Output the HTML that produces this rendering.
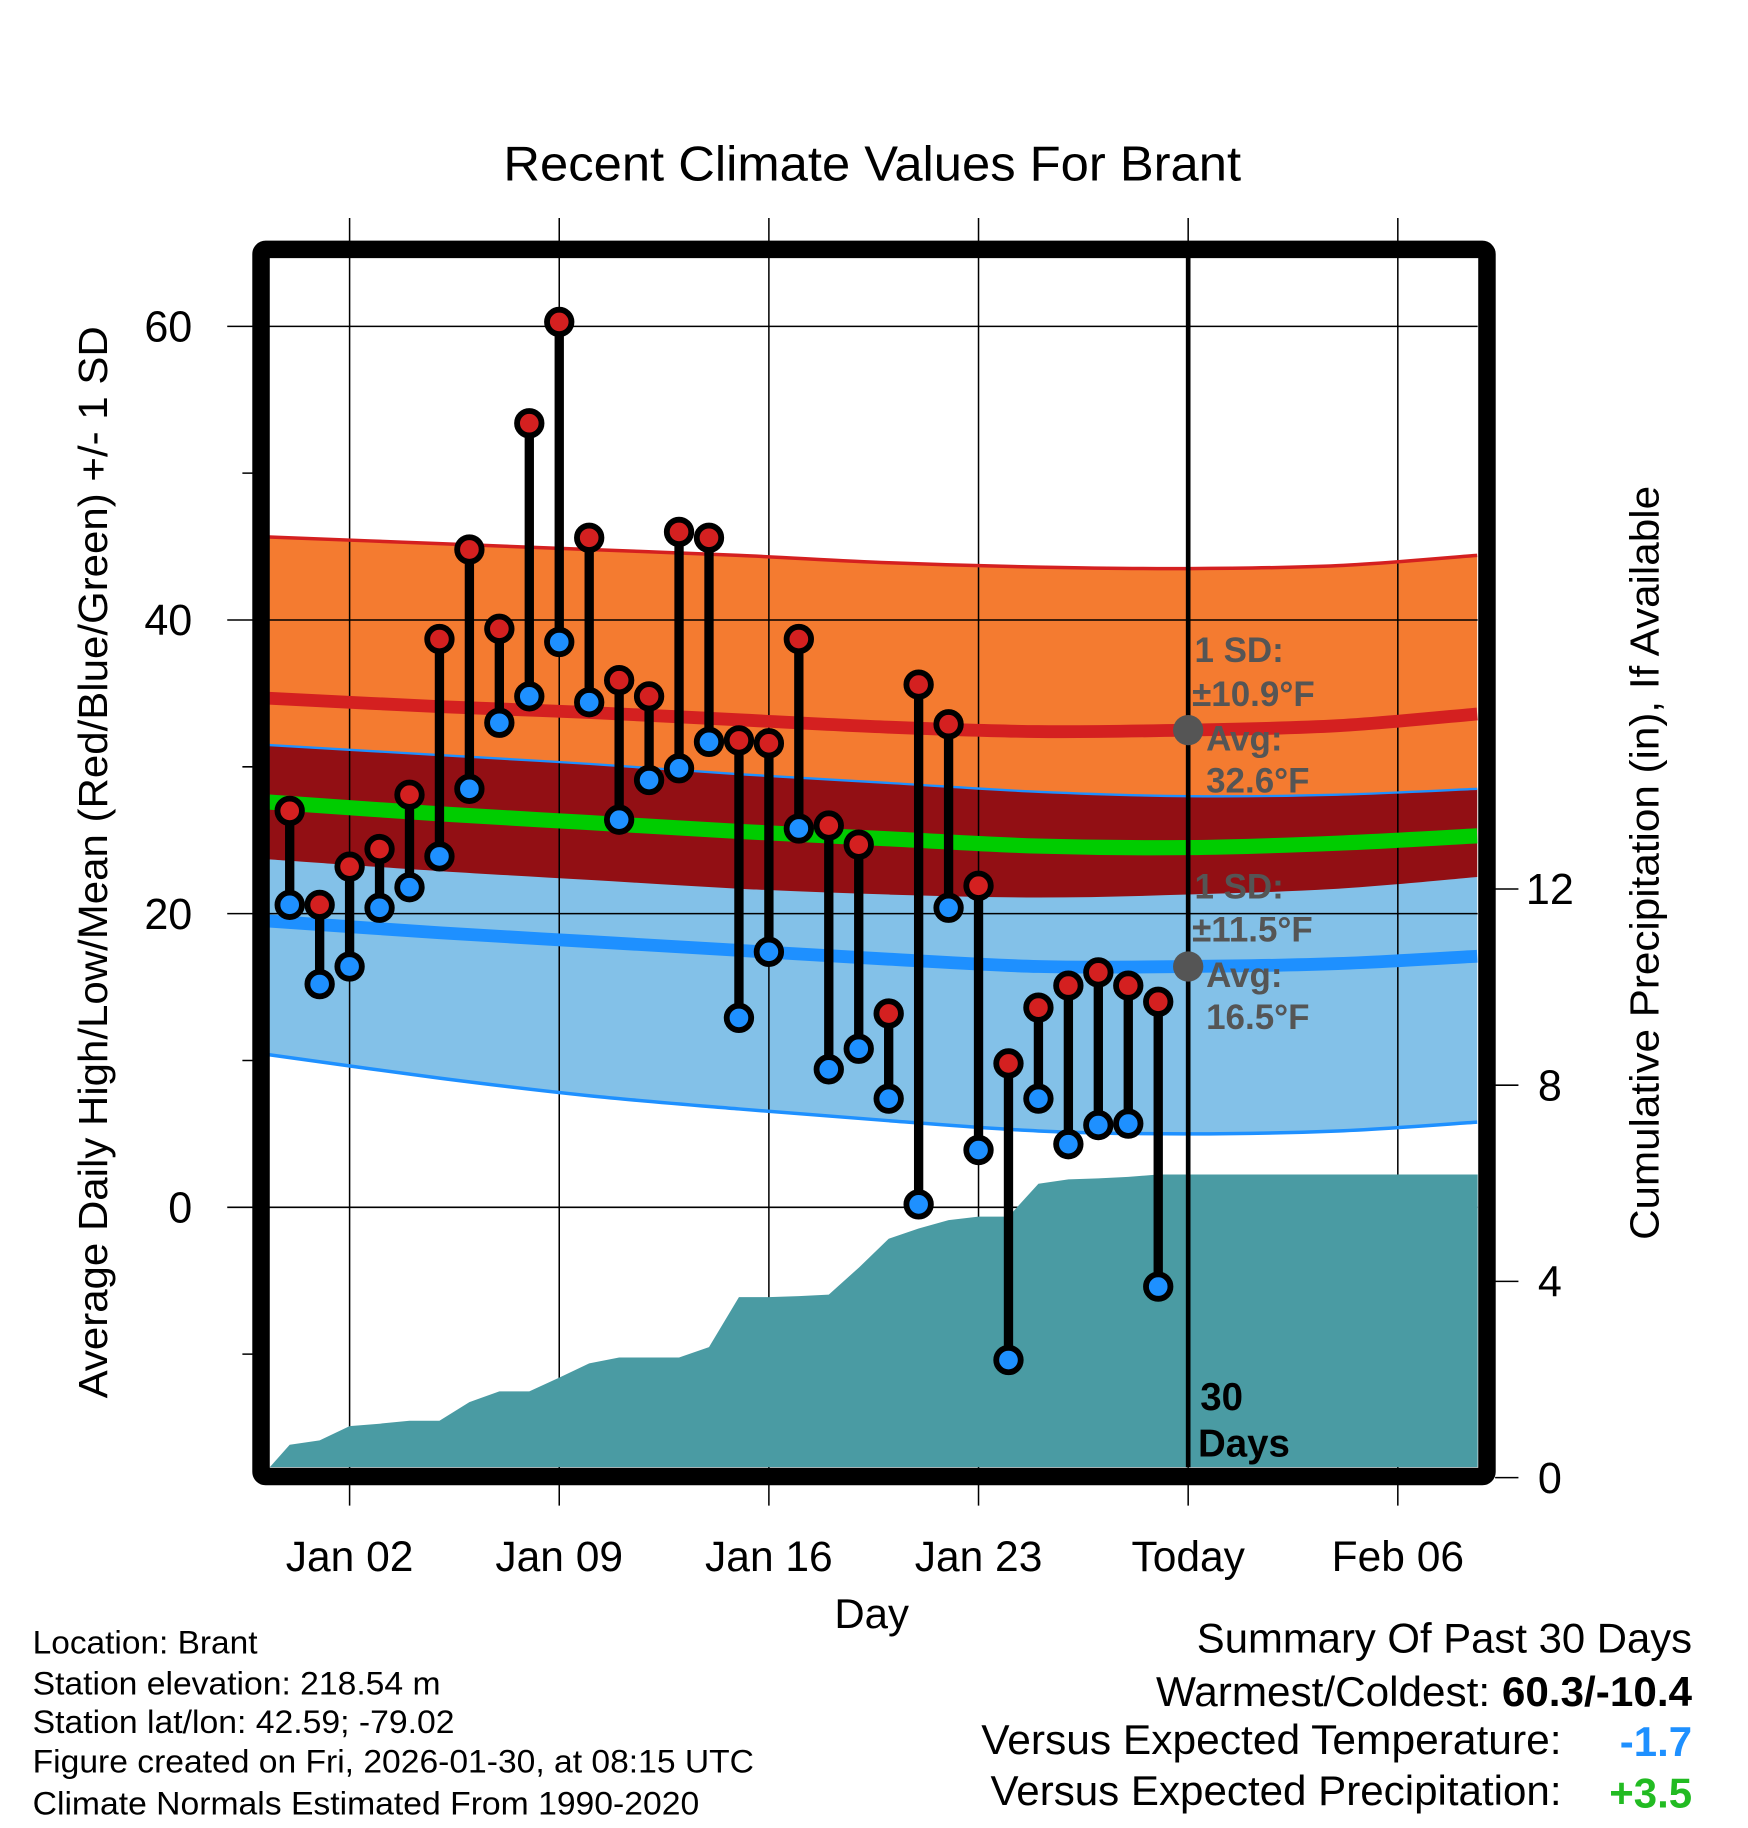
<!DOCTYPE html>
<html><head><meta charset="utf-8"><style>
html,body{margin:0;padding:0;background:#fff}
svg{display:block}
text{font-family:"Liberation Sans",Arial,sans-serif}
</style></head><body>
<svg id="chart" width="1748" height="1828" viewBox="0 0 1500 1568.6" xmlns="http://www.w3.org/2000/svg">
<g id="bands"></g><g id="grid"></g><g id="precip"></g><g id="lines"></g><g id="frame"></g><g id="marks"></g><g id="labels"></g>
</svg>
<script>
// ---- data ----
const days = ['Dec 31','Jan 01','Jan 02','Jan 03','Jan 04','Jan 05','Jan 06','Jan 07','Jan 08','Jan 09','Jan 10','Jan 11','Jan 12','Jan 13','Jan 14','Jan 15','Jan 16','Jan 17','Jan 18','Jan 19','Jan 20','Jan 21','Jan 22','Jan 23','Jan 24','Jan 25','Jan 26','Jan 27','Jan 28','Jan 29'];
const highs = [27.0,20.6,23.2,24.4,28.1,38.7,44.8,39.4,53.4,60.3,45.6,35.9,34.8,46.0,45.6,31.8,31.6,38.7,26.0,24.7,13.2,35.6,32.9,21.9,9.8,13.6,15.1,16.0,15.1,14.0];
const lows = [20.6,15.2,16.4,20.4,21.8,23.9,28.5,33.0,34.8,38.5,34.4,26.4,29.1,29.9,31.7,12.9,17.4,25.8,9.4,10.8,7.4,0.2,20.4,3.9,-10.4,7.4,4.3,5.6,5.7,-5.4];
const precip = [0.67,0.76,1.05,1.10,1.16,1.16,1.54,1.76,1.76,2.04,2.33,2.45,2.45,2.45,2.66,3.68,3.68,3.70,3.73,4.28,4.87,5.08,5.25,5.32,5.32,5.99,6.08,6.10,6.13,6.18];
const normDays = [0,5,10,15,20,25,30,35,39.65];
const hiUpper = [45.6,45.2,44.8,44.4,43.9,43.6,43.5,43.7,44.4];
const hiMean = [34.6,34.1,33.7,33.2,32.7,32.4,32.5,32.8,33.6];
const lowUpper = [31.4,30.8,30.2,29.5,28.9,28.3,28.0,28.1,28.5];
const avgMean = [27.5,26.8,26.2,25.6,25.1,24.6,24.5,24.8,25.3];
const hiLower = [23.6,22.9,22.3,21.7,21.3,21.1,21.3,21.7,22.5];
const lowMean = [19.4,18.7,18.1,17.5,16.9,16.4,16.4,16.6,17.1];
const lowLower = [10.2,8.8,7.6,6.7,5.9,5.2,5.0,5.2,5.8];
const yTicks = [0,20,40,60];
const yMinor = [-10,10,30,50];
const pTicks = [0,4,8,12];
const xTickDays = [2,9,16,23,30,37];
const xTickLabels = ['Jan 02','Jan 09','Jan 16','Jan 23','Today','Feb 06'];
const todayDay = 30;
// ---- axes ----
const PL=231,PR=1268,PT=221,PB=1259;
const xS=d=>248.6+25.7*d;
const yS=v=>1036-12.6*v;
const pS=v=>1268-42.1*v;
const NS='http://www.w3.org/2000/svg';
function mk(tag,parent,attrs){const e=document.createElementNS(NS,tag);for(const k in attrs)e.setAttribute(k,attrs[k]);document.getElementById(parent).appendChild(e);return e;}
function curvePts(arr){const p=[];const n=normDays.length;for(let i=0;i<n;i++){p.push([xS(normDays[i]),yS(arr[i])]);}
 p[0]=[PL,p[0][1]+(p[0][1]-p[1][1])*(xS(normDays[0])-PL)/(p[1][0]-p[0][0])];return p;}
function pathD(p,move){let d=(move?'M':'L')+p[0][0]+','+p[0][1];for(let i=0;i<p.length-1;i++){const p0=p[i-1]||p[i],p1=p[i],p2=p[i+1],p3=p[i+2]||p2;
 d+=' C'+(p1[0]+(p2[0]-p0[0])/6)+','+(p1[1]+(p2[1]-p0[1])/6)+' '+(p2[0]-(p3[0]-p1[0])/6)+','+(p2[1]-(p3[1]-p1[1])/6)+' '+p2[0]+','+p2[1];}return d;}
function band(top,bot,fill,name){const a=curvePts(top),b=curvePts(bot).reverse();
 const e=mk('path','bands',{d:pathD(a,true)+' '+pathD(b,false)+' Z',fill:fill});
 
 }
band(hiUpper,hiLower,'#f47b30','high-sd-band');
band(lowUpper,lowLower,'#83c1e8','low-sd-band');
band(lowUpper,hiLower,'#920f14','overlap-band');
function line(arr,color,w,name){const e=mk('path','lines',{d:pathD(curvePts(arr),true),fill:'none',stroke:color,'stroke-width':w});
 
 }
// grid
yTicks.forEach(v=>{const e=mk('line','grid',{x1:195,x2:PR,y1:yS(v),y2:yS(v),stroke:'#000','stroke-width':1.3});
 
 
 const t=mk('text','labels',{x:165,y:yS(v)+13,'text-anchor':'end','font-size':37});t.textContent=v;
 
 });
yMinor.forEach(v=>{const e=mk('line','grid',{x1:208,x2:222,y1:yS(v),y2:yS(v),stroke:'#000','stroke-width':1.3});
 
 });
xTickDays.forEach((d,i)=>{const e=mk('line','grid',{x1:xS(d),x2:xS(d),y1:187,y2:1292,stroke:'#000','stroke-width':1.3});
 
 
 const t=mk('text','labels',{x:xS(d),y:1348,'text-anchor':'middle','font-size':36.5});t.textContent=xTickLabels[i];
 
 });
pTicks.forEach(v=>{const e=mk('line','grid',{x1:1283,x2:1303,y1:pS(v),y2:pS(v),stroke:'#000','stroke-width':1.3});
 
 
 const t=mk('text','labels',{x:1330,y:pS(v)+13,'text-anchor':'middle','font-size':37});t.textContent=v;
 
 });
// precip area
let pd='M'+PL+','+PB+' L'+PL+','+pS(0.2);
precip.forEach((v,i)=>{pd+=' L'+xS(i)+','+pS(v);});
pd+=' L'+PR+','+pS(precip[precip.length-1])+' L'+PR+','+PB+' Z';
const pa=mk('path','precip',{d:pd,fill:'#4a9ba3'});


// lines
line(hiUpper,'#d42020',3,'high-upper-line');
line(hiMean,'#d42020',11,'high-mean-line');
line(lowUpper,'#1e90ff',2,'low-upper-line');
line(avgMean,'#00cc00',13,'mean-line');
line(lowMean,'#1e90ff',11,'low-mean-line');
line(lowLower,'#1e90ff',3,'low-lower-line');
// frame
const fr=mk('rect','frame',{x:224,y:214,width:1052,height:1053,fill:'none',stroke:'#000','stroke-width':15,rx:4});


const tl=mk('line','frame',{x1:xS(todayDay),x2:xS(todayDay),y1:PT,y2:PB,stroke:'#000','stroke-width':4});


// marks
highs.forEach((h,i)=>{const x=xS(i);
 const s=mk('line','marks',{x1:x,x2:x,y1:yS(h),y2:yS(lows[i]),stroke:'#000','stroke-width':8});
 
 
 const c1=mk('circle','marks',{cx:x,cy:yS(h),r:10.5,fill:'#d42020',stroke:'#000','stroke-width':5});
 
 
 const c2=mk('circle','marks',{cx:x,cy:yS(lows[i]),r:10.5,fill:'#1e90ff',stroke:'#000','stroke-width':5});
 
 });
// avg dots
[[hiMean,'high-avg-dot'],[lowMean,'low-avg-dot']].forEach(([arr,n])=>{const c=mk('circle','marks',{cx:xS(todayDay),cy:yS(arr[6]),r:13,fill:'#555'});
 
 });
</script>
<svg style="position:absolute;left:0;top:0" width="1748" height="1828" viewBox="0 0 1500 1568.6">
<text x="432" y="155" textLength="633" lengthAdjust="spacingAndGlyphs" font-size="42" font-family="Liberation Sans">Recent Climate Values For Brant</text>
<text transform="translate(92,740) rotate(-90)" x="-460" textLength="920" lengthAdjust="spacingAndGlyphs" font-size="35" font-family="Liberation Sans">Average Daily High/Low/Mean (Red/Blue/Green) +/- 1 SD</text>
<text transform="translate(1423,741) rotate(-90)" x="-323" textLength="647" lengthAdjust="spacingAndGlyphs" font-size="35" font-family="Liberation Sans">Cumulative Precipitation (in), If Available</text>
<text x="748" y="1397" text-anchor="middle" font-size="36" font-family="Liberation Sans">Day</text>
<g font-family="Liberation Sans" font-weight="bold" font-size="30" fill="#555">
<text x="1025" y="568">1 SD:</text>
<text x="1023" y="606">±10.9°F</text>
<text x="1035" y="644">Avg:</text>
<text x="1035" y="680">32.6°F</text>
<text x="1025" y="771">1 SD:</text>
<text x="1023" y="808">±11.5°F</text>
<text x="1035" y="847">Avg:</text>
<text x="1035" y="883">16.5°F</text>
</g>
<g font-family="Liberation Sans" font-weight="bold" font-size="33">
<text x="1030" y="1210">30</text>
<text x="1028" y="1250">Days</text>
</g>
<g font-family="Liberation Sans" font-size="28" lengthAdjust="spacingAndGlyphs">
<text x="28" y="1419" textLength="193" lengthAdjust="spacingAndGlyphs">Location: Brant</text>
<text x="28" y="1454" textLength="350" lengthAdjust="spacingAndGlyphs">Station elevation: 218.54 m</text>
<text x="28" y="1487" textLength="362" lengthAdjust="spacingAndGlyphs">Station lat/lon: 42.59; -79.02</text>
<text x="28" y="1521" textLength="619" lengthAdjust="spacingAndGlyphs">Figure created on Fri, 2026-01-30, at 08:15 UTC</text>
<text x="28" y="1557" textLength="572" lengthAdjust="spacingAndGlyphs">Climate Normals Estimated From 1990-2020</text>
</g>
<g font-family="Liberation Sans" font-size="36">
<text x="1027" y="1418" textLength="425" lengthAdjust="spacingAndGlyphs">Summary Of Past 30 Days</text>
<text x="992" y="1464" textLength="460" lengthAdjust="spacingAndGlyphs">Warmest/Coldest: <tspan font-weight="bold">60.3/-10.4</tspan></text>
<text x="842" y="1505" textLength="498" lengthAdjust="spacingAndGlyphs">Versus Expected Temperature:</text>
<text x="1452" y="1507" text-anchor="end" font-weight="bold" fill="#1e90ff">-1.7</text>
<text x="850" y="1549" textLength="490" lengthAdjust="spacingAndGlyphs">Versus Expected Precipitation:</text>
<text x="1452" y="1551" text-anchor="end" font-weight="bold" fill="#22bb22">+3.5</text>
</g>
</svg>
</body></html>
